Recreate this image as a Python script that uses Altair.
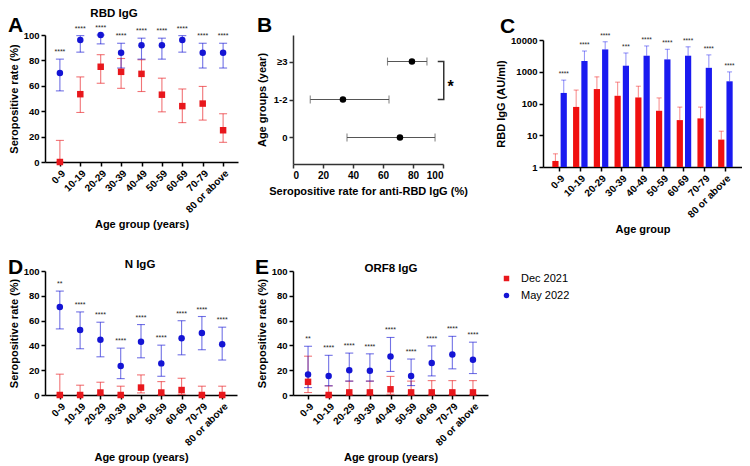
import altair as alt
import pandas as pd

# ---------------- data ----------------
ages = ["0-9", "10-19", "20-29", "30-39", "40-49", "50-59", "60-69", "70-79", "80 or above"]
series = ["Dec 2021", "May 2022"]

# A: RBD IgG seropositive rate (%)
rbd_dec = [0, 53.4, 75, 71, 69.4, 53, 44, 46, 25]
rbd_dec_lo = [0, 39, 62, 58, 55.5, 39.5, 31, 33, 15.5]
rbd_dec_hi = [17, 67, 84.5, 81.5, 80.5, 66, 57.5, 59.5, 38]
rbd_may = [70, 96, 100, 86, 92, 92, 96, 86, 86]
rbd_may_lo = [56, 86.5, 93, 74, 81, 81, 86.5, 74, 74]
rbd_may_hi = [81, 99.5, 100, 93.5, 97.5, 97.5, 99.5, 93.5, 93.5]
rbd_stars = ["****"] * 9

# B: seropositive rate for anti-RBD IgG by age (year)
b_groups = ["0", "1-2", "≥3"]
b_rate = [71.3, 33.3, 79.3]
b_lo = [36, 11.5, 63]
b_hi = [94.7, 64, 89.3]

# C: RBD IgG level (AU/ml)
c_dec = [1.55, 78, 285, 175, 155, 59, 30, 34, 7.3]
c_dec_hi = [2.6, 265, 690, 470, 350, 150, 77, 77, 13.4]
c_may = [215, 2180, 5050, 1550, 3200, 2450, 3200, 1330, 500]
c_may_hi = [545, 4500, 8800, 3900, 6500, 5100, 6100, 3400, 990]
c_stars = ["****", "****", "****", "***", "****", "****", "****", "****", "****"]

# D: N IgG seropositive rate (%)
n_dec = [0, 0, 2, 0, 6, 2, 4, 0, 0]
n_dec_lo = [0, 0, 0.3, 0, 1.7, 0.3, 0.5, 0, 0]
n_dec_hi = [16.8, 7.9, 10.3, 7.1, 16.2, 10.8, 13.5, 7.1, 7.1]
n_may = [71, 52.5, 44.5, 23.3, 43, 25.5, 45.8, 50, 41]
n_may_lo = [53.3, 37.3, 30.8, 13.2, 30, 15.1, 32.4, 36.5, 28.2]
n_may_hi = [83.8, 67, 58.7, 37.8, 56.8, 40.2, 59.9, 63.3, 54.7]
n_stars = ["**"] + ["****"] * 8

# E: ORF8 IgG seropositive rate (%)
orf_dec = [10.6, 0, 2.1, 2.1, 4.6, 2.1, 2.1, 2.1, 2.1]
orf_dec_lo = [2, 0, 0.2, 0.2, 0.6, 0.2, 0.2, 0.2, 0.2]
orf_dec_hi = [31.3, 7.4, 11.2, 11.2, 15, 11.2, 11.6, 11.6, 11.6]
orf_may = [16.6, 15.4, 20, 19.6, 31, 15.4, 25.8, 32.7, 28.4]
orf_may_lo = [6, 7.4, 11.2, 11.2, 19, 7.6, 15.4, 21.1, 17.3]
orf_may_hi = [39.3, 32, 33.8, 33.2, 46.4, 29, 39.6, 47.3, 42.6]
orf_stars = ["**"] + ["****"] * 8

# B significance bracket (between ≥3 and 1-2)
bracket_x = [96.5, 100.5, 100.5, 96.5]
bracket_y = ["≥3", "≥3", "1-2", "1-2"]

# ---------------- style ----------------
FONT = "Liberation Sans"
RED = "#e8171c"
BLUE = "#1414d4"
RED_BAR = "#f01010"
BLUE_BAR = "#1a1af0"


def x_axis(title):
    return alt.Axis(title=title, labelAngle=-45, labelFont=FONT, labelFontWeight="bold",
                    labelFontSize=10, labelColor="black", titleFont=FONT, titleFontWeight="bold",
                    titleFontSize=11, titleColor="black", domainColor="black", domainWidth=1.5,
                    tickColor="black", tickWidth=1.5, tickSize=4, labelPadding=2, titlePadding=4,
                    grid=False)


def y_axis(title, values=None, fmt=None, title_pad=4, color="black"):
    kw = dict(title=title, labelFont=FONT, labelFontWeight="bold", labelFontSize=9.5,
              labelColor="black", titleFont=FONT, titleFontWeight="bold", titleFontSize=11,
              titleColor="black", domainColor=color, domainWidth=1.5, tickColor=color,
              tickWidth=1.5, tickSize=4, labelPadding=2, titlePadding=title_pad, grid=False)
    if values is not None:
        kw["values"] = values
    if fmt is not None:
        kw["format"] = fmt
    return alt.Axis(**kw)


def text_layer(txt, lx, ly, size, align="left"):
    return alt.Chart(pd.DataFrame({"t": [txt]})).mark_text(
        font=FONT, fontSize=size, fontWeight="bold", align=align, baseline="alphabetic", color="black"
    ).encode(x=alt.value(lx), y=alt.value(ly), text="t:N")


def rate_df(dec, dec_lo, dec_hi, may, may_lo, may_hi, stars):
    rows = []
    for i, a in enumerate(ages):
        rows.append(dict(age=a, series=series[0], value=dec[i], lo=dec_lo[i], hi=dec_hi[i], star=""))
        rows.append(dict(age=a, series=series[1], value=may[i], lo=may_lo[i], hi=may_hi[i], star=stars[i]))
    return pd.DataFrame(rows)


RATE_YAXIS = y_axis("Seropositive rate (%)", values=[0, 20, 40, 60, 80, 100])


def rate_panel(df, title, letter, width, height, title_xy, letter_xy, legend=None):
    x = alt.X("age:N", sort=ages, scale=alt.Scale(type="point", padding=0.73),
              axis=x_axis("Age group (years)"))
    ysc = alt.Scale(domain=[0, 100], nice=False)

    def Y(f):
        return alt.Y(f, scale=ysc, axis=RATE_YAXIS)

    base = alt.Chart(df).encode(x=x)
    layers = []
    for s, col in zip(series, [RED, BLUE]):
        sb = base.transform_filter(alt.datum.series == s)
        layers.append(sb.mark_rule(strokeWidth=1.1, opacity=0.6, color=col).encode(y=Y("lo:Q"), y2="hi:Q"))
        layers.append(sb.mark_tick(size=8, thickness=1.1, opacity=0.6, color=col).encode(y=Y("hi:Q")))
        layers.append(sb.mark_tick(size=8, thickness=1.1, opacity=0.6, color=col).encode(y=Y("lo:Q")))
    pts = base.mark_point(filled=True, size=42, opacity=1).encode(
        y=Y("value:Q"),
        color=alt.Color("series:N", scale=alt.Scale(domain=series, range=[RED, BLUE]), legend=legend),
        shape=alt.Shape("series:N", scale=alt.Scale(domain=series, range=["square", "circle"]),
                        legend=legend))
    stars = base.transform_filter("datum.star != ''").mark_text(
        font=FONT, fontSize=7, dy=-7, color="#222").encode(y=Y("hi:Q"), text="star:N")
    layers += [pts, stars, text_layer(letter, *letter_xy, 21),
               text_layer(title, *title_xy, 11.5, align="center")]
    return alt.layer(*layers).properties(width=width, height=height)


# ---------------- panel A ----------------
panel_a = rate_panel(rate_df(rbd_dec, rbd_dec_lo, rbd_dec_hi, rbd_may, rbd_may_lo, rbd_may_hi, rbd_stars),
                     "RBD IgG", "A", 193, 127, title_xy=(69, -18), letter_xy=(-37, -3))

# ---------------- panel B ----------------
b_df = pd.DataFrame({"grp": b_groups, "rate": b_rate, "lo": b_lo, "hi": b_hi})
B_YAXIS = y_axis("Age groups (year)", title_pad=6, color="#333")
B_XAXIS = alt.Axis(title="Seropositive rate for anti-RBD IgG (%)", values=[0, 20, 40, 60, 80, 100],
                   labelFont=FONT, labelFontWeight="bold", labelFontSize=10, labelColor="black",
                   titleFont=FONT, titleFontWeight="bold", titleFontSize=11, titleColor="black",
                   domainColor="#333", domainWidth=1.5, tickColor="#333", tickWidth=1.5, tickSize=4,
                   labelPadding=2, titlePadding=5, grid=False)
b_xsc = alt.Scale(domain=[0, 100], nice=False)
b_ysc = alt.Scale(type="point", padding=0.7)


def BX(f):
    return alt.X(f, scale=b_xsc, axis=B_XAXIS)


def BY(f):
    return alt.Y(f, sort=b_groups[::-1], scale=b_ysc, axis=B_YAXIS)


b_base = alt.Chart(b_df)
b_rule = b_base.mark_rule(color="#555", strokeWidth=1.1).encode(x=BX("lo:Q"), x2="hi:Q", y=BY("grp:N"))
b_cap1 = b_base.mark_tick(color="#555", size=8, thickness=1.1).encode(x=BX("lo:Q"), y=BY("grp:N"))
b_cap2 = b_base.mark_tick(color="#555", size=8, thickness=1.1).encode(x=BX("hi:Q"), y=BY("grp:N"))
b_pts = b_base.mark_point(filled=True, size=42, color="black", opacity=1).encode(x=BX("rate:Q"), y=BY("grp:N"))
br_df = pd.DataFrame({"bx": bracket_x, "grp": bracket_y, "o": [0, 1, 2, 3]})
b_br = alt.Chart(br_df).mark_line(color="#333", strokeWidth=1.5).encode(
    x=BX("bx:Q"), y=BY("grp:N"), order="o:Q")
star_df = pd.DataFrame({"sx": [105], "grp": ["1-2"], "s": ["*"]})
b_star = alt.Chart(star_df).mark_text(font=FONT, fontSize=16, fontWeight="bold", dy=-13,
                                      color="black").encode(x=BX("sx:Q"), y=BY("grp:N"), text="s:N")
panel_b = alt.layer(b_rule, b_cap1, b_cap2, b_pts, b_br, b_star,
                    text_layer("B", -36, -3, 21)).properties(width=150, height=129)

# ---------------- panel C ----------------
c_rows = []
for i, a in enumerate(ages):
    c_rows.append(dict(age=a, series=series[0], value=c_dec[i], hi=c_dec_hi[i], star=""))
    c_rows.append(dict(age=a, series=series[1], value=c_may[i], hi=c_may_hi[i], star=c_stars[i]))
c_df = pd.DataFrame(c_rows)
c_x = alt.X("age:N", sort=ages, scale=alt.Scale(paddingInner=0.3, paddingOuter=0.45),
            axis=x_axis("Age group"))
c_xo = alt.XOffset("series:N", sort=series, scale=alt.Scale(paddingInner=0.25))
c_ysc = alt.Scale(type="log", domain=[1, 10000], range=[132, 5], nice=False)
C_YAXIS = y_axis("RBD IgG (AU/ml)", values=[1, 10, 100, 1000, 10000], fmt="d")
c_cs = alt.Scale(domain=series, range=[RED_BAR, BLUE_BAR])


def CY(f):
    return alt.Y(f, scale=c_ysc, axis=C_YAXIS)


c_base = alt.Chart(c_df).encode(x=c_x, xOffset=c_xo)
c_bars = c_base.mark_bar().encode(
    y=CY("value:Q"), y2=alt.datum(1), color=alt.Color("series:N", scale=c_cs, legend=None))
c_err = c_base.mark_rule(strokeWidth=1.1, opacity=0.45).encode(
    y=CY("value:Q"), y2="hi:Q", color=alt.Color("series:N", scale=c_cs, legend=None))
c_cap = c_base.mark_tick(size=5, thickness=1.1, opacity=0.45).encode(
    y=CY("hi:Q"), color=alt.Color("series:N", scale=c_cs, legend=None))
c_star = c_base.transform_filter("datum.star != ''").mark_text(
    font=FONT, fontSize=6.5, dy=-6, color="#222").encode(y=CY("hi:Q"), text="star:N")
panel_c = alt.layer(c_bars, c_err, c_cap, c_star,
                    text_layer("C", -43, -2, 21)).properties(width=199, height=132)

# ---------------- panels D, E ----------------
legend = alt.Legend(orient="none", legendX=208, legendY=2, title=None, labelFont=FONT,
                    labelFontSize=11, labelColor="black", symbolSize=30, rowPadding=5,
                    labelOffset=9, padding=0)
panel_d = rate_panel(rate_df(n_dec, n_dec_lo, n_dec_hi, n_may, n_may_lo, n_may_hi, n_stars),
                     "N  IgG", "D", 192, 124, title_xy=(95, -3), letter_xy=(-37, 3))
panel_e = rate_panel(rate_df(orf_dec, orf_dec_lo, orf_dec_hi, orf_may, orf_may_lo, orf_may_hi, orf_stars),
                     "ORF8 IgG", "E", 195, 124, title_xy=(98, 1), letter_xy=(-38, 3), legend=legend)

chart = alt.concat(panel_a, panel_b, panel_c, panel_d, panel_e, columns=3,
                   spacing={"row": 104, "column": 55}, bounds="flush", align="each").resolve_scale(
    color="independent", shape="independent", x="independent", y="independent").properties(
    padding=0, background="white").configure_view(stroke=None)

chart.save("out.html", embed_options={"renderer": "svg", "actions": False})
